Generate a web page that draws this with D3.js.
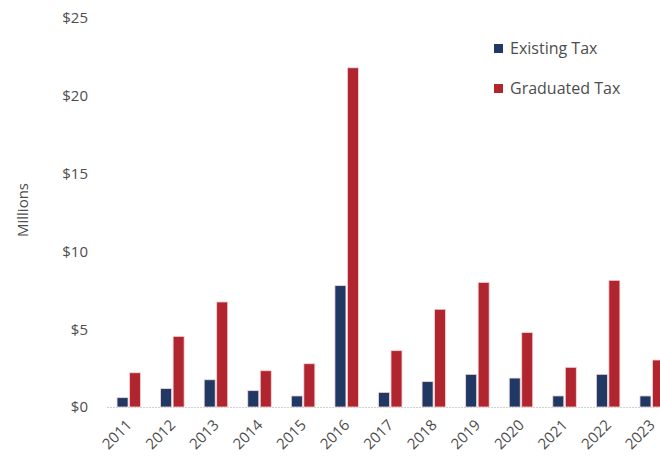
<!DOCTYPE html>
<html>
<head>
<meta charset="utf-8">
<script src="https://cdn.jsdelivr.net/npm/d3@7"></script>
<style>
  html, body { margin: 0; padding: 0; background: #fff; }
  svg { display: block; font-family: "Open Sans", "Noto Sans", sans-serif; }
</style>
</head>
<body>
<svg id="chart" width="660" height="468"></svg>
<script>
// Annual revenue in millions of dollars
const years = ["2011","2012","2013","2014","2015","2016","2017","2018","2019","2020","2021","2022","2023"];
const existingTax  = [0.6, 1.18, 1.75, 1.05, 0.71, 7.8, 0.94, 1.63, 2.1, 1.86, 0.71, 2.1, 0.71];
const graduatedTax = [2.2, 4.54, 6.75, 2.33, 2.78, 21.8, 3.62, 6.28, 8.01, 4.78, 2.55, 8.14, 3.02];
const seriesNames  = ["Existing Tax", "Graduated Tax"];
const seriesColors = ["#1f3864", "#b1252f"];
const yTicks = [0, 5, 10, 15, 20, 25];

const svg = d3.select("#chart");
const textColor = "#4d4d4d";

const x = d3.scaleBand().domain(years).range([107, 673.5]).padding(0);
const y = d3.scaleLinear().domain([0, 25]).range([407, 18]);

const barW = 11, barGap = 1.5;

// baseline
svg.append("line")
  .attr("x1", 107).attr("x2", 660)
  .attr("y1", y(0) + 0.5).attr("y2", y(0) + 0.5)
  .attr("stroke", "#d0d0d0").attr("stroke-width", 1.2)
  .attr("stroke-dasharray", "2,1");

// y axis labels
const yAxis = d3.axisLeft(y).tickValues(yTicks).tickSize(0).tickPadding(0)
  .tickFormat(d => "$" + d);
const ya = svg.append("g").attr("transform", "translate(88,0)").call(yAxis);
ya.select(".domain").remove();
ya.selectAll("text").attr("fill", textColor).attr("font-size", 15)
  .attr("font-family", "'Open Sans', sans-serif");

// axis title
svg.append("text")
  .attr("transform", "translate(28,210) rotate(-90)")
  .attr("text-anchor", "middle")
  .attr("fill", textColor).attr("font-size", 15)
  .text("Millions");

// x axis labels
const xAxis = d3.axisBottom(x).tickSize(0).tickPadding(0);
const xa = svg.append("g").call(xAxis);
xa.select(".domain").remove();
xa.selectAll(".tick text")
  .attr("fill", textColor).attr("font-size", 15)
  .attr("font-family", "'Open Sans', sans-serif")
  .attr("text-anchor", "end")
  .attr("dy", null).attr("y", null)
  .attr("transform", "translate(4,426) rotate(-45)");

// bars
const series = [existingTax, graduatedTax];
series.forEach((vals, si) => {
  svg.append("g").selectAll("rect")
    .data(years.map((yr, i) => ({ yr, v: vals[i] })))
    .join("rect")
    .attr("x", d => x(d.yr) + x.bandwidth() / 2 + (si === 0 ? -barW - barGap / 2 : barGap / 2))
    .attr("y", d => y(d.v))
    .attr("width", barW)
    .attr("height", d => y(0) - y(d.v))
    .attr("fill", seriesColors[si])
    .attr("stroke", "#f3d6d8")
    .attr("stroke-width", 0.8);
});

// legend
const legend = svg.append("g").attr("transform", "translate(494,0)");
seriesNames.forEach((name, i) => {
  const ly = 48 + i * 40;
  legend.append("rect").attr("x", 0).attr("y", ly - 4).attr("width", 9).attr("height", 9)
    .attr("fill", seriesColors[i]);
  legend.append("text").attr("x", 16).attr("y", ly).attr("dy", "0.35em")
    .attr("fill", textColor).attr("font-size", 16).text(name);
});
</script>
</body>
</html>
